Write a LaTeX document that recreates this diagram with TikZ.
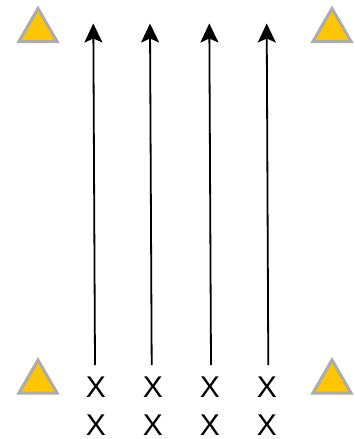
\documentclass[tikz,border=0pt]{standalone}
\usepackage{fontspec}
\setmainfont{Liberation Sans}
\usetikzlibrary{arrows.meta, shapes.geometric, positioning}

\begin{document}
\begin{tikzpicture}[
    x=1pt, y=-1pt,
    cone/.style={regular polygon, regular polygon sides=3, draw=gray!65,
                 fill=orange!45!yellow, line width=3pt, inner sep=0pt,
                 minimum size=44pt},
    player/.style={inner sep=0pt, font=\fontsize{30}{30}\selectfont},
    arr/.style={line width=1.8pt, arrows={-Stealth[length=19pt, width=18pt, inset=4pt]}},
    on grid, node distance=38pt and 57pt
]
    \useasboundingbox (0,0) rectangle (355,439);

    % cones in the four corners
    \node[cone] (c1) at (38,30.5)  {};
    \node[cone] (c2) at (332,30.5) {};
    \node[cone] (c3) at (38,382)   {};
    \node[cone] (c4) at (332,382)  {};

    % two rows of players
    \node[player] (p1) at (96,387) {X};
    \node[player, right=of p1] (p2) {X};
    \node[player, right=of p2] (p3) {X};
    \node[player, right=of p3] (p4) {X};
    \node[player, below=of p1] (q1) {X};
    \node[player, below=of p2] (q2) {X};
    \node[player, below=of p3] (q3) {X};
    \node[player, below=of p4] (q4) {X};

    % runs
    \coordinate (s1) at (95,365);    \coordinate (e1) at (93.3,23.5);
    \coordinate (s2) at (151.7,365); \coordinate (e2) at (150,23.5);
    \coordinate (s3) at (211,365);   \coordinate (e3) at (209.3,23.5);
    \coordinate (s4) at (268.3,365); \coordinate (e4) at (266.7,23.5);

    \draw[arr] (s1) -- (e1);
    \draw[arr] (s2) -- (e2);
    \draw[arr] (s3) -- (e3);
    \draw[arr] (s4) -- (e4);
\end{tikzpicture}
\end{document}
